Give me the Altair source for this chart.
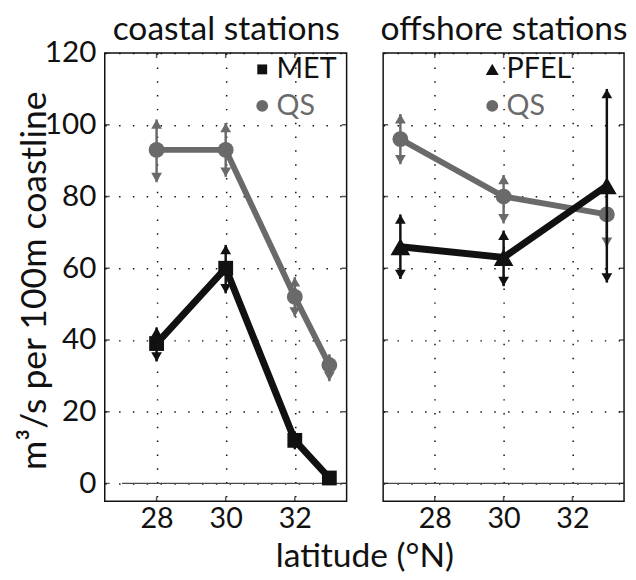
import altair as alt
import pandas as pd

# ---------------- data ----------------
# coastal stations
met_lat = [28, 30, 32, 33]
met_val = [39, 60, 12, 1.5]
met_lo = [34, 53, 9.5, 0.5]
met_hi = [43.5, 66.5, 14.5, 2.5]

qs_coast_lat = [28, 30, 32, 33]
qs_coast_val = [93, 93, 52, 33]
qs_coast_lo = [84, 85.5, 46.5, 28.5]
qs_coast_hi = [101.5, 100.5, 57.5, 36]

# offshore stations
pfel_lat = [27, 30, 33]
pfel_val = [66, 63, 83]
pfel_lo = [57, 55, 56]
pfel_hi = [75, 70.5, 110]

qs_off_lat = [27, 30, 33]
qs_off_val = [96, 80, 75]
qs_off_lo = [89, 72.5, 66]
qs_off_hi = [103, 86, 84]

y_ticks = [0, 20, 40, 60, 80, 100, 120]
x_ticks = [28, 30, 32]
x_domain = [26.5, 33.5]
y_domain = [-5, 120]
zero_x_coast = [27, 33.5]
zero_x_off = [26.5, 33.5]

# ---------------- style ----------------
FONT = "Lato"
BLACK = "#111111"
GRAY = "#6a6a6a"
W_L, W_R, H = 245, 244, 454

xscale = alt.Scale(domain=x_domain, nice=False, zero=False)
yscale = alt.Scale(domain=y_domain, nice=False, zero=False)

grid_kw = dict(grid=True, gridDash=[1.5, 12.5], gridColor=BLACK, gridWidth=1.5,
               gridOpacity=1, ticks=False, domain=False, labelFlush=False,
               labelOverlap=False)

x_axis_L = alt.Axis(orient="bottom", values=x_ticks, labelFont=FONT, labelFontSize=29,
                    labelColor=BLACK, labelPadding=4, title="latitude (°N)",
                    titleFont=FONT, titleFontSize=34, titleFontWeight="normal",
                    titleColor=BLACK, titleX=263, titleY=66, titleAlign="center",
                    titleBaseline="alphabetic", **grid_kw)
x_axis_R = alt.Axis(orient="bottom", values=x_ticks, labelFont=FONT, labelFontSize=29,
                    labelColor=BLACK, labelPadding=4, title=None, **grid_kw)
y_axis_L = alt.Axis(orient="left", values=y_ticks, labelFont=FONT, labelFontSize=30,
                    labelColor=BLACK, labelPadding=9, title="m³/s per 100m coastline",
                    titleFont=FONT, titleFontSize=36, titleFontWeight="normal",
                    titleColor=BLACK, titleX=-60, titleY=230, titleAngle=270,
                    titleAlign="center", titleBaseline="alphabetic", **grid_kw)
y_axis_R = alt.Axis(orient="left", values=y_ticks, labels=False, title=None, **grid_kw)


def top_axis(title, width):
    return alt.Axis(orient="top", labels=False, ticks=False, domain=False, grid=False,
                    title=title, titleFont=FONT, titleFontSize=34,
                    titleFontWeight="normal", titleColor=BLACK, titleX=width / 2,
                    titleY=-14, titleAlign="center", titleBaseline="alphabetic")


def make_df(lat, val, lo, hi, name):
    return pd.DataFrame({"lat": lat, "v": val, "lo": lo, "hi": hi, "series": name})


def panel(series, title, width, xax, yax, zero_x):
    def X():
        return alt.X("lat:Q", scale=xscale, axis=xax)

    def Y(f):
        return alt.Y(f + ":Q", scale=yscale, axis=yax)

    layers = []
    zdf = pd.DataFrame({"lat": zero_x, "v": [0, 0]})
    layers.append(alt.Chart(zdf).mark_line(color="#4a4a4a", strokeWidth=1.5)
                  .encode(x=X(), y=Y("v")))
    for s in series:
        df = s["df"]
        color = s["color"]
        base = alt.Chart(df)
        layers.append(base.mark_rule(color=color, strokeWidth=2.5)
                      .encode(x=X(), y=Y("lo"), y2=alt.Y2("hi:Q")))
        layers.append(base.mark_point(shape="triangle-up", size=120, filled=True,
                                      color=color, opacity=1, yOffset=4.7)
                      .encode(x=X(), y=Y("hi")))
        layers.append(base.mark_point(shape="triangle-down", size=120, filled=True,
                                      color=color, opacity=1, yOffset=-4.7)
                      .encode(x=X(), y=Y("lo")))
        layers.append(base.mark_line(color=color, strokeWidth=s["lw"])
                      .encode(x=X(), y=Y("v")))
        leg = alt.Legend(title=None, orient="none", legendX=s["lx"], legendY=s["ly"],
                         labelFont=FONT, labelFontSize=29, labelColor=color,
                         symbolType=s["lshape"], symbolSize=s["lsize"],
                         symbolFillColor=color, symbolStrokeWidth=0, symbolOpacity=1,
                         labelOffset=0, padding=0)
        sc = alt.Scale(domain=[df["series"][0]], range=[color])
        if s["channel"] == "color":
            enc = alt.Color("series:N", scale=sc, legend=leg)
        else:
            enc = alt.Fill("series:N", scale=sc, legend=leg)
        layers.append(base.mark_point(shape=s["shape"], size=s["msize"], filled=True,
                                      opacity=1, strokeWidth=0)
                      .encode(x=X(), y=Y("v"), **{s["channel"]: enc}))
    # inward ticks on the frame
    ytk = pd.DataFrame({"v": y_ticks})
    xtk = pd.DataFrame({"lat": x_ticks})
    tk = dict(size=10, thickness=1.5, color=BLACK, clip=True)
    layers.append(alt.Chart(ytk).mark_tick(orient="horizontal", **tk)
                  .encode(y=Y("v"), x=alt.value(0)))
    layers.append(alt.Chart(ytk).mark_tick(orient="horizontal", **tk)
                  .encode(y=Y("v"), x=alt.value("width")))
    layers.append(alt.Chart(xtk).mark_tick(orient="vertical", **tk)
                  .encode(x=X(), y=alt.value("height")))
    main = alt.layer(*layers)
    # top ticks carry the panel title as a top axis title
    top = (alt.Chart(xtk).mark_tick(orient="vertical", **tk)
           .encode(x=alt.X("lat:Q", scale=xscale, axis=top_axis(title, width)),
                   y=alt.value(0)))
    return alt.layer(main, top).properties(width=width, height=H)


coast = panel(
    [
        dict(df=make_df(qs_coast_lat, qs_coast_val, qs_coast_lo, qs_coast_hi, "QS"),
             color=GRAY, shape="circle", msize=256, lw=6, channel="fill",
             lx=145, ly=39, lshape="circle", lsize=144),
        dict(df=make_df(met_lat, met_val, met_lo, met_hi, "MET"),
             color=BLACK, shape="square", msize=225, lw=7, channel="color",
             lx=145, ly=2, lshape="square", lsize=100),
    ],
    "coastal stations", W_L, x_axis_L, y_axis_L, zero_x_coast)

off = panel(
    [
        dict(df=make_df(qs_off_lat, qs_off_val, qs_off_lo, qs_off_hi, "QS"),
             color=GRAY, shape="circle", msize=256, lw=6, channel="fill",
             lx=96, ly=39, lshape="circle", lsize=144),
        dict(df=make_df(pfel_lat, pfel_val, pfel_lo, pfel_hi, "PFEL"),
             color=BLACK, shape="triangle-up", msize=400, lw=7, channel="color",
             lx=96, ly=2, lshape="triangle-up", lsize=170),
    ],
    "offshore stations", W_R, x_axis_R, y_axis_R, zero_x_off)

chart = (
    alt.hconcat(coast, off, spacing=37, bounds="flush")
    .resolve_scale(color="independent", fill="independent")
    .resolve_legend(color="independent", fill="independent")
    .properties(padding={"left": 8, "top": 0, "right": 0, "bottom": 0},
                background="white")
    .configure_view(stroke=BLACK, strokeWidth=1.5)
)

chart.save("out.html", embed_options={"renderer": "svg", "actions": False})
